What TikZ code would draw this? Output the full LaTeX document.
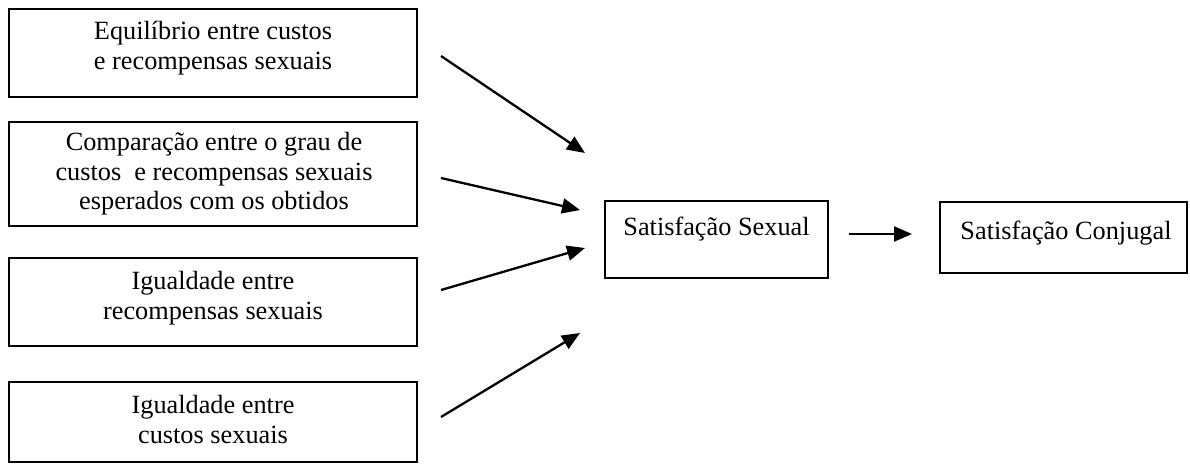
\documentclass[tikz,border=0pt]{standalone}
\usepackage{fontspec}
\setmainfont{Liberation Serif}
\usetikzlibrary{arrows.meta}
\tikzset{
  box/.style={draw=black, line width=1.8pt, rectangle, inner sep=0pt, fill=white},
  txt/.style={anchor=north, inner sep=0pt, align=center,
    font=\fontsize{26.3}{29.5}\selectfont, execute at begin node=\strut},
  arr/.style={line width=2.3pt, -{Triangle[length=18pt,width=15pt]}}
}
\begin{document}
\begin{tikzpicture}[x=1pt,y=-1pt]
\useasboundingbox (0,0) rectangle (1190,464);
% boxes
\node[box, minimum width=408pt, minimum height=88pt] (b1) at (213,53) {};
\node[box, minimum width=408pt, minimum height=104pt] (b2) at (213,174) {};
\node[box, minimum width=408pt, minimum height=88pt] (b3) at (213,302) {};
\node[box, minimum width=408pt, minimum height=80pt] (b4) at (213,422) {};
\node[box, minimum width=223pt, minimum height=77pt] (sx) at (716.5,239.5) {};
\node[box, minimum width=247pt, minimum height=71pt] (cj) at (1063.5,237.5) {};
% texts
\node[txt] (t1) at (213,{42-20.65}) {Equilíbrio entre custos\\e recompensas sexuais};
\begin{scope}
\clip (10,123) rectangle (416,216);
\node[txt] (t2) at (214,{153-20.65}) {Comparação entre o grau de\\custos~ e recompensas sexuais\\esperados com os obtidos};
\end{scope}
\node[txt] (t3) at (213,{292-20.65}) {Igualdade entre\\recompensas sexuais};
\node[txt] (t4) at (213,{416-20.65}) {Igualdade entre\\custos sexuais};
\node[txt] (t5) at (716.5,{235-20.65}) {Satisfação Sexual};
\node[txt] (t6) at (1066,{239-20.65}) {Satisfação Conjugal};
% arrow end points
\coordinate (s1) at (441,56);  \coordinate (e1) at (585,153);
\coordinate (s2) at (441,178); \coordinate (e2) at (580,210);
\coordinate (s3) at (441,290); \coordinate (e3) at (585,248);
\coordinate (s4) at (441,417); \coordinate (e4) at (580,333);
\coordinate (s5) at (849,234); \coordinate (e5) at (912,234);
\draw[arr] (s1) -- (e1);
\draw[arr] (s2) -- (e2);
\draw[arr] (s3) -- (e3);
\draw[arr] (s4) -- (e4);
\draw[arr] (s5) -- (e5);
\end{tikzpicture}
\end{document}
